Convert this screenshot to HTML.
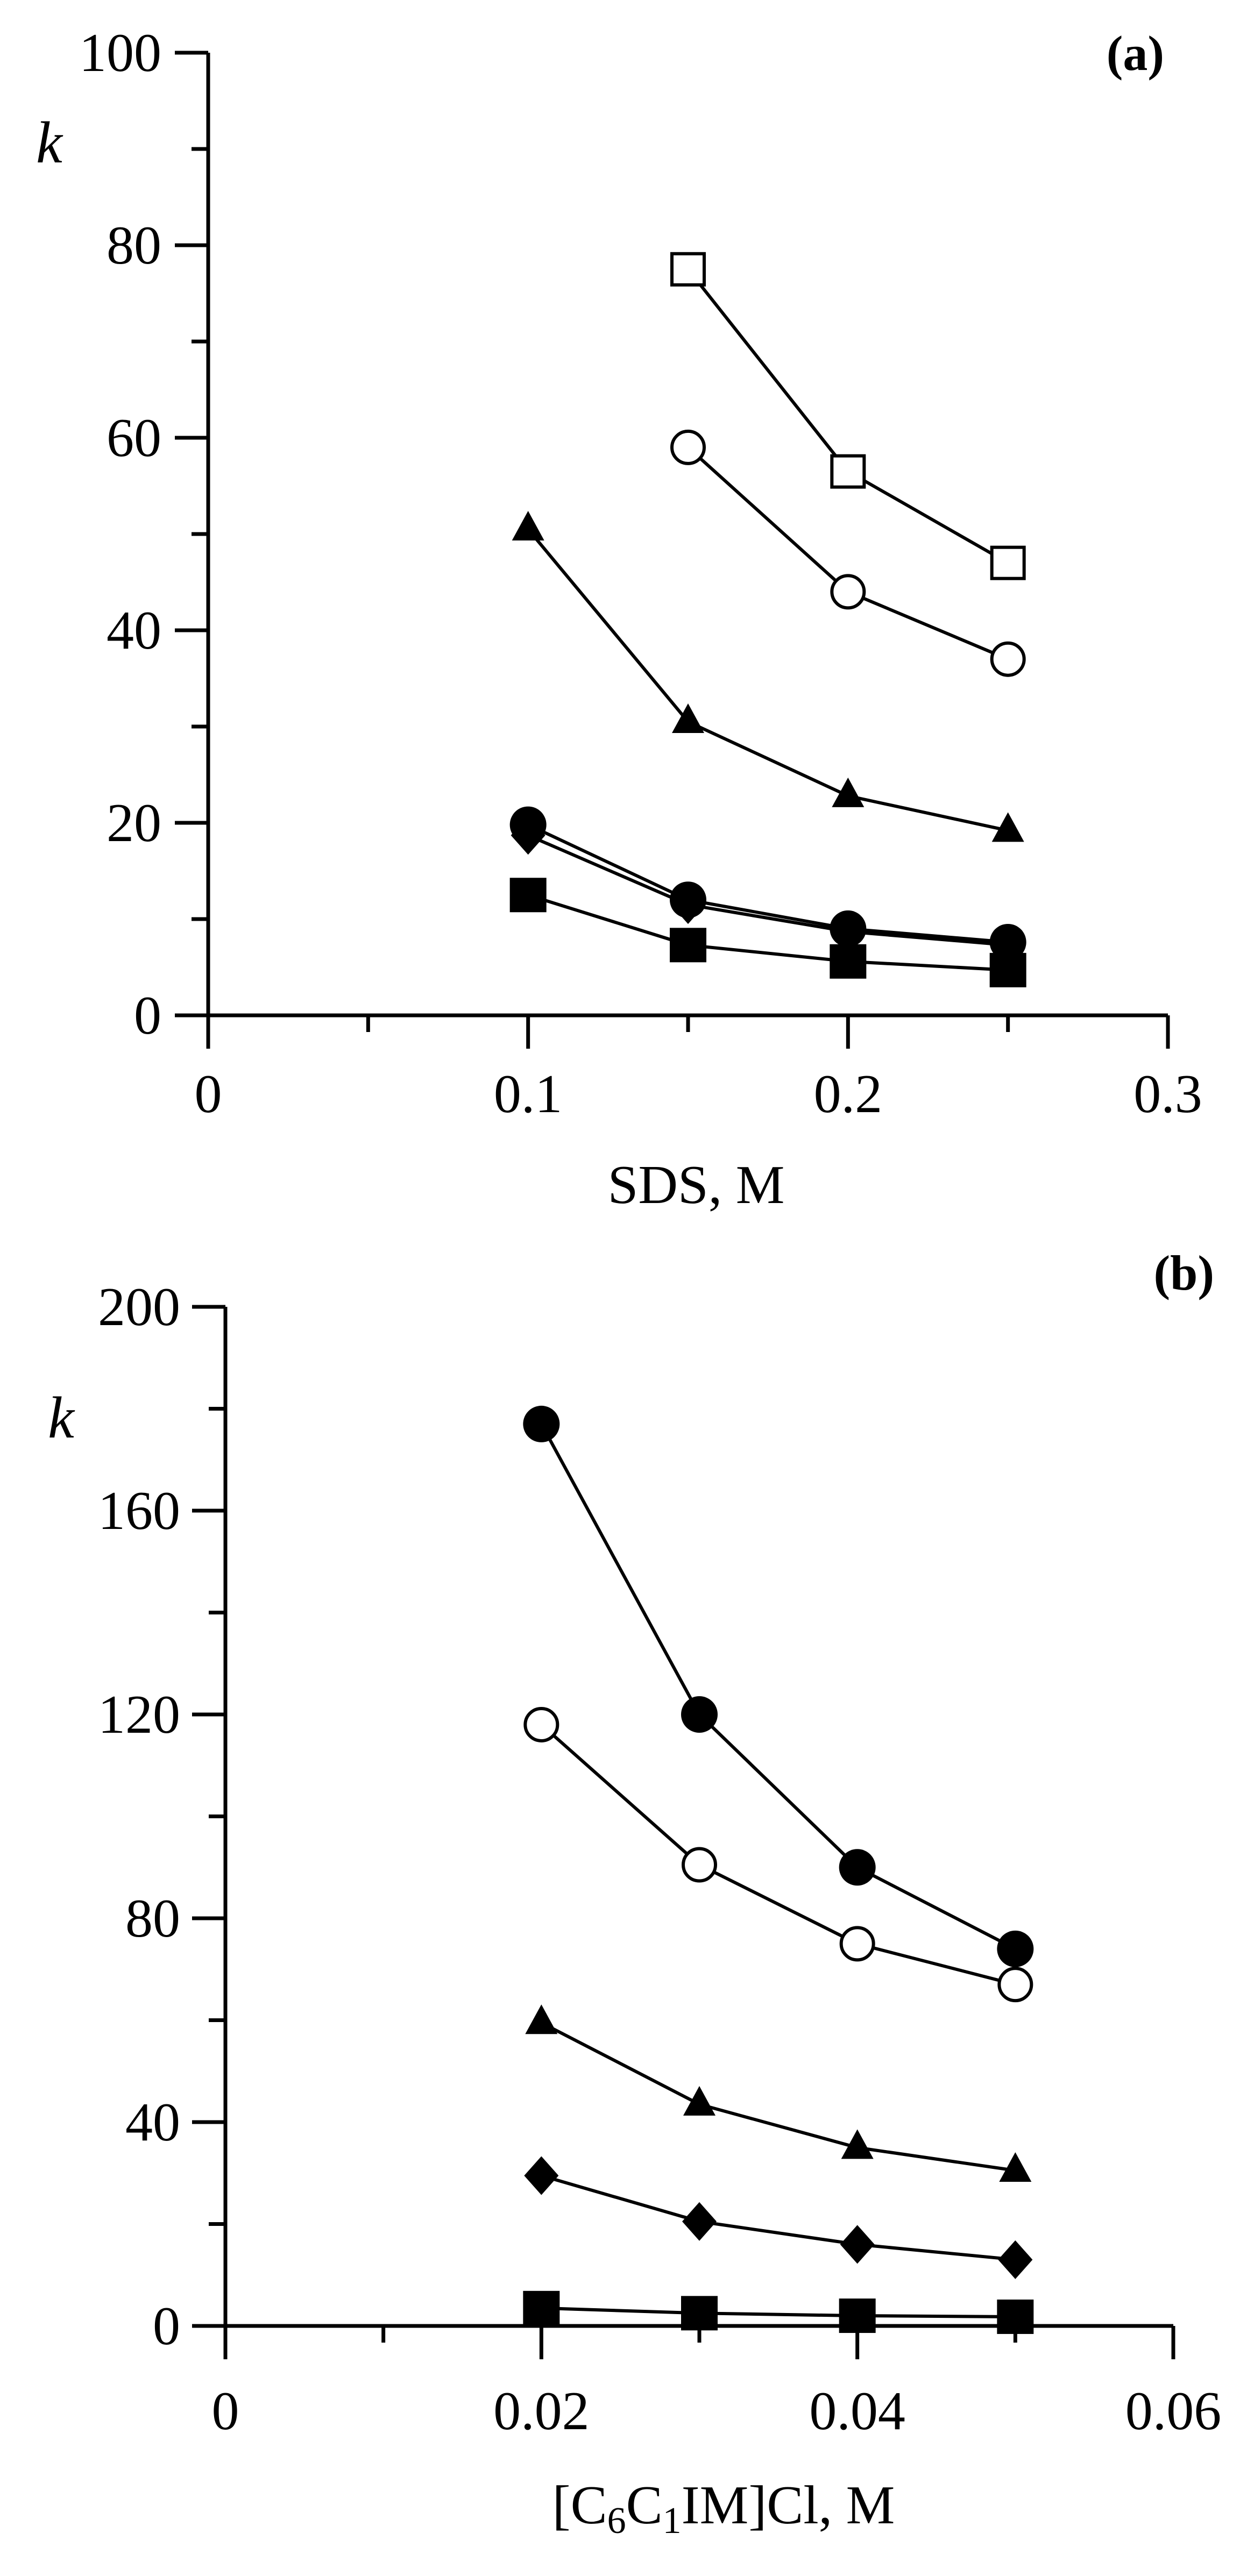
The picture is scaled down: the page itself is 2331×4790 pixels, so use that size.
<!DOCTYPE html>
<html><head><meta charset="utf-8"><style>
html,body{margin:0;padding:0;background:#fff;}
svg{display:block;}
text{font-family:"Liberation Serif",serif;fill:#000;}
</style></head><body>
<svg id="chart" width="2331" height="4790" viewBox="0 0 2331 4790" xmlns="http://www.w3.org/2000/svg">
<g id="pa"></g>
<g id="pb"></g>
</svg>
<script>
// Panel (a) data
const aX = [0.10, 0.15, 0.20, 0.25];
const aOpenSquare = [null, 77.5, 56.5, 47.0];
const aOpenCircle = [null, 59.0, 44.0, 37.0];
const aTriangle = [50.5, 30.5, 22.8, 19.2];
const aFilledCircle = [19.8, 12.0, 9.0, 7.6];
const aDiamond = [18.7, 11.5, 8.7, 7.3];
const aFilledSquare = [12.5, 7.3, 5.6, 4.7];
const aYTicks = ["0","20","40","60","80","100"];
const aXTicks = ["0","0.1","0.2","0.3"];
// Panel (b) data
const bX = [0.02, 0.03, 0.04, 0.05];
const bFilledCircle = [177, 120, 90, 74];
const bOpenCircle = [118, 90.5, 75, 67];
const bTriangle = [59.5, 43.5, 35, 30.5];
const bDiamond = [29.5, 20.5, 16, 13];
const bFilledSquare = [3.5, 2.5, 2.0, 1.8];
const bYTicks = ["0","40","80","120","160","200"];
const bXTicks = ["0","0.02","0.04","0.06"];

const NS = "http://www.w3.org/2000/svg";
function mk(tag, attrs, parent){
  const e = document.createElementNS(NS, tag);
  for (const k in attrs) e.setAttribute(k, attrs[k]);
  parent.appendChild(e);
  return e;
}

function panel(g, cfg){
  const sx = v => cfg.x0 + (v - 0) / cfg.xmax * (cfg.x1 - cfg.x0);
  const sy = v => cfg.y0 - v / cfg.ymax * (cfg.y0 - cfg.y1);
  const ya = mk("line", {x1:cfg.x0, y1:cfg.y1, x2:cfg.x0, y2:cfg.y0+62, stroke:"#000","stroke-width":7}, g);
  
  
  const xa = mk("line", {x1:cfg.x0-62, y1:cfg.y0, x2:cfg.x1, y2:cfg.y0, stroke:"#000","stroke-width":7}, g);
  
  
  const nY = cfg.yTicks.length - 1;
  for (let i = 0; i <= nY*2; i++){
    const v = cfg.ymax * i / (nY*2);
    const major = i % 2 === 0;
    const t = mk("line", {x1:cfg.x0 - (major?62:31), y1:sy(v), x2:cfg.x0, y2:sy(v), stroke:"#000","stroke-width":7}, g);
    
    
    if (major){
      const lab = mk("text", {x:cfg.ylabRight, y:sy(v)+34, "font-size":102, "text-anchor":"end"}, g);
      lab.textContent = cfg.yTicks[i/2];
      
      
    }
  }
  const nX = cfg.xTicks.length - 1;
  for (let i = 0; i <= nX*2; i++){
    const v = cfg.xmax * i / (nX*2);
    const major = i % 2 === 0;
    const t = mk("line", {x1:sx(v), y1:cfg.y0, x2:sx(v), y2:cfg.y0 + (major?62:31), stroke:"#000","stroke-width":7}, g);
    
    
    if (major){
      const lab = mk("text", {x:sx(v), y:cfg.xlabBase, "font-size":102, "text-anchor":"middle"}, g);
      lab.textContent = cfg.xTicks[i/2];
      
      
    }
  }
  cfg.series.forEach(s => {
    const pts = [];
    cfg.xs.forEach((xv, i) => { if (s.vals[i] !== null) pts.push([sx(xv), sy(s.vals[i])]); });
    const pl = mk("polyline", {points: pts.map(p=>p.join(",")).join(" "), fill:"none", stroke:"#000", "stroke-width":6}, g);
    
    
    pts.forEach(([px,py]) => {
      let m;
      if (s.shape === "square"){
        if (s.fill) m = mk("rect", {x:px-34, y:py-32, width:68, height:64, fill:"#000"}, g);
        else m = mk("rect", {x:px-30, y:py-29, width:60, height:58, fill:"#fff", stroke:"#000", "stroke-width":6}, g);
      } else if (s.shape === "circle"){
        m = mk("circle", {cx:px, cy:py, r:s.fill?34:30, fill:s.fill?"#000":"#fff", stroke:"#000", "stroke-width":s.fill?0:6}, g);
      } else if (s.shape === "triangle"){
        m = mk("polygon", {points:`${px},${py-34} ${px+30},${py+21} ${px-30},${py+21}`, fill:"#000"}, g);
      } else {
        m = mk("polygon", {points:`${px},${py-36} ${px+32},${py} ${px},${py+36} ${px-32},${py}`, fill:"#000"}, g);
      }
      
      
    });
  });
}

const ga = document.getElementById("pa");
panel(ga, {x0:387, x1:2171, y0:1888, y1:98, xmax:0.3, ymax:100, yTicks:aYTicks, xTicks:aXTicks,
  ylabRight:300, xlabBase:2068, xs:aX,
  series:[
    {name:"open-square", vals:aOpenSquare, shape:"square", fill:false},
    {name:"open-circle", vals:aOpenCircle, shape:"circle", fill:false},
    {name:"triangle", vals:aTriangle, shape:"triangle", fill:true},
    {name:"diamond", vals:aDiamond, shape:"diamond", fill:true},
    {name:"filled-circle", vals:aFilledCircle, shape:"circle", fill:true},
    {name:"filled-square", vals:aFilledSquare, shape:"square", fill:true}
  ]});
const gb = document.getElementById("pb");
panel(gb, {x0:419, x1:2181, y0:4325, y1:2430, xmax:0.06, ymax:200, yTicks:bYTicks, xTicks:bXTicks,
  ylabRight:335, xlabBase:4517, xs:bX,
  series:[
    {name:"filled-circle", vals:bFilledCircle, shape:"circle", fill:true},
    {name:"open-circle", vals:bOpenCircle, shape:"circle", fill:false},
    {name:"triangle", vals:bTriangle, shape:"triangle", fill:true},
    {name:"diamond", vals:bDiamond, shape:"diamond", fill:true},
    {name:"filled-square", vals:bFilledSquare, shape:"square", fill:true}
  ]});
</script>
<svg style="position:absolute;left:0;top:0" width="2331" height="4790">
<text x="67" y="302" font-size="110" font-style="italic" font-family="Liberation Serif, serif">k</text>
<text x="2164" y="130" font-size="92" font-weight="bold" text-anchor="end" font-family="Liberation Serif, serif">(a)</text>
<text x="1294" y="2237" font-size="102" text-anchor="middle" font-family="Liberation Serif, serif">SDS, M</text>
<text x="89" y="2673" font-size="110" font-style="italic" font-family="Liberation Serif, serif">k</text>
<text x="2257" y="2398" font-size="92" font-weight="bold" text-anchor="end" font-family="Liberation Serif, serif">(b)</text>
<text x="1345" y="4692" font-size="102" text-anchor="middle" font-family="Liberation Serif, serif">[C<tspan font-size="70" dy="18">6</tspan><tspan dy="-18">C</tspan><tspan font-size="70" dy="18">1</tspan><tspan dy="-18">IM]Cl, M</tspan></text>
</svg>
</body></html>
